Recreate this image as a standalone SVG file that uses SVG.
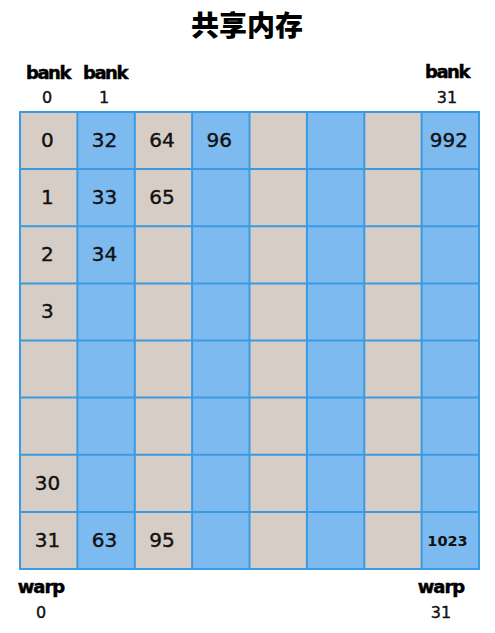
<svg xmlns="http://www.w3.org/2000/svg" width="495" height="633" viewBox="0 0 495 633">
<style>
.beige{fill:#d6cec6}
.blue{fill:#7dbaf0}
.grid{stroke:#3c9ae0;stroke-width:2;fill:none}
.num{font-family:"DejaVu Sans","Liberation Sans",sans-serif;font-size:20px;fill:#111;stroke:#111;stroke-width:0.4;text-anchor:middle}
.small{font-family:"DejaVu Sans","Liberation Sans",sans-serif;font-size:14.5px;font-weight:bold;fill:#111;text-anchor:middle}
.lbl{font-family:"DejaVu Sans","Liberation Sans",sans-serif;font-size:18px;font-weight:bold;fill:#000;stroke:#000;stroke-width:0.5;text-anchor:middle;letter-spacing:-1.5px}
.idx{font-family:"DejaVu Sans","Liberation Sans",sans-serif;font-size:16px;fill:#111;stroke:#111;stroke-width:0.4;text-anchor:middle}
.title{font-family:"Noto Sans CJK SC","Noto Sans CJK TC",sans-serif;font-size:28px;font-weight:900;fill:#000;text-anchor:middle}
</style>
<rect width="495" height="633" fill="#ffffff"/>
<g id="title"><text class="title" x="247" y="36">共享内存</text></g>
<g id="labels">
<text class="lbl" x="48" y="79">bank</text>
<text class="idx" x="47" y="103">0</text>
<text class="lbl" x="105" y="79">bank</text>
<text class="idx" x="104" y="103">1</text>
<text class="lbl" x="447" y="78">bank</text>
<text class="idx" x="447" y="103">31</text>
<text class="lbl" x="41" y="593" style="letter-spacing:-1px">warp</text>
<text class="idx" x="41" y="618">0</text>
<text class="lbl" x="441" y="593" style="letter-spacing:-1px">warp</text>
<text class="idx" x="441" y="618">31</text>
</g>
<g id="bank-col-0"><rect class="beige" x="20" y="112" width="57.4" height="457"/>
<text class="num" x="47.4" y="147">0</text>
<text class="num" x="47.4" y="204">1</text>
<text class="num" x="47.4" y="261.2">2</text>
<text class="num" x="47.4" y="318.3">3</text>
<text class="num" x="47.4" y="489.7">30</text>
<text class="num" x="47.4" y="546.8">31</text></g>
<g id="bank-col-1"><rect class="blue" x="77.4" y="112" width="57.4" height="457"/>
<text class="num" x="104.4" y="147">32</text>
<text class="num" x="104.4" y="204">33</text>
<text class="num" x="104.4" y="261.2">34</text>
<text class="num" x="104.4" y="546.8">63</text></g>
<g id="bank-col-2"><rect class="beige" x="134.8" y="112" width="57.4" height="457"/>
<text class="num" x="161.9" y="147">64</text>
<text class="num" x="161.9" y="204">65</text>
<text class="num" x="161.9" y="546.8">95</text></g>
<g id="bank-col-3"><rect class="blue" x="192.1" y="112" width="57.4" height="457"/>
<text class="num" x="219.3" y="147">96</text></g>
<g id="bank-col-4"><rect class="beige" x="249.5" y="112" width="57.4" height="457"/></g>
<g id="bank-col-5"><rect class="blue" x="306.9" y="112" width="57.4" height="457"/></g>
<g id="bank-col-6"><rect class="beige" x="364.3" y="112" width="57.4" height="457"/></g>
<g id="bank-col-7"><rect class="blue" x="421.6" y="112" width="57.4" height="457"/>
<text class="num" x="448.8" y="147">992</text>
<text class="small" x="447.5" y="546">1023</text></g>
<g id="grid-lines" class="grid">
<rect x="20" y="112" width="459" height="457"/>
<path d="M77.4 112V569M134.8 112V569M192.1 112V569M249.5 112V569M306.9 112V569M364.3 112V569M421.6 112V569"/>
<path d="M20 169.1H479M20 226.3H479M20 283.4H479M20 340.5H479M20 397.6H479M20 454.8H479M20 511.9H479"/>
</g>
</svg>
